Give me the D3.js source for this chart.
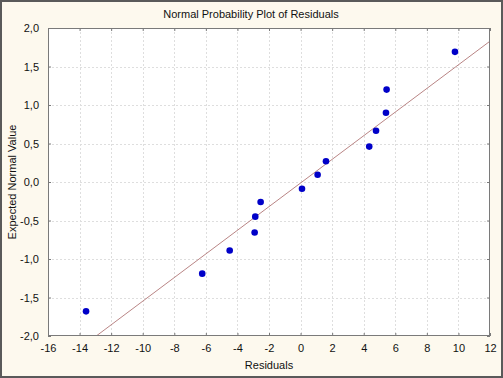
<!DOCTYPE html>
<html>
<head>
<meta charset="utf-8">
<script src="https://cdn.jsdelivr.net/npm/d3@7"></script>
<style>
  html, body { margin: 0; padding: 0; background: #fdf9ee; }
  svg { display: block; }
  text { font-family: "Liberation Sans", Arial, sans-serif; fill: #111; }
</style>
</head>
<body>
<svg id="chart" width="503" height="378"></svg>
<script>
// Data
const residuals = [-13.59, -6.23, -4.49, -2.91, -2.87, -2.53, 0.09, 1.08, 1.61, 4.35, 4.78, 5.41, 5.45, 9.78];
const expectedNormal = [-1.68, -1.19, -0.89, -0.655, -0.45, -0.26, -0.088, 0.095, 0.27, 0.46, 0.665, 0.9, 1.2, 1.69];
const xTicks = [-16, -14, -12, -10, -8, -6, -4, -2, 0, 2, 4, 6, 8, 10, 12];
const yTicks = [-2.0, -1.5, -1.0, -0.5, 0.0, 0.5, 1.0, 1.5, 2.0];
const lineSlope = 0.1535;
const lineIntercept = -0.013;
const titleText = "Normal Probability Plot of Residuals";
const xLabel = "Residuals";
const yLabel = "Expected Normal Value";

const W = 503, H = 378;
const m = { left: 48, top: 28, right: 490, bottom: 336 };

const svg = d3.select("#chart");

// background and outer border
svg.append("rect").attr("x", 0).attr("y", 0).attr("width", W).attr("height", H).attr("fill", "#fdf9ee");
svg.append("rect").attr("x", 1).attr("y", 1).attr("width", W - 2).attr("height", H - 2)
  .attr("fill", "none").attr("stroke", "#5a5a5a").attr("stroke-width", 2);

const x = d3.scaleLinear().domain([-16, 12]).range([m.left, m.right]);
const y = d3.scaleLinear().domain([-2, 2]).range([m.bottom, m.top]);

// plot area
svg.append("rect").attr("x", m.left).attr("y", m.top)
  .attr("width", m.right - m.left).attr("height", m.bottom - m.top).attr("fill", "#ffffff");

// gridlines
const grid = svg.append("g");
grid.selectAll("line.vx").data(xTicks.slice(1, -1)).join("line")
  .attr("x1", d => Math.round(x(d)) + 0.5).attr("x2", d => Math.round(x(d)) + 0.5)
  .attr("y1", m.top).attr("y2", m.bottom)
  .attr("stroke", "#dedede").attr("stroke-dasharray", "2,2");
grid.selectAll("line.hy").data(yTicks.slice(1, -1)).join("line")
  .attr("y1", d => Math.round(y(d)) + 0.5).attr("y2", d => Math.round(y(d)) + 0.5)
  .attr("x1", m.left).attr("x2", m.right)
  .attr("stroke", "#dedede").attr("stroke-dasharray", "2,2");

// clip
svg.append("clipPath").attr("id", "clip").append("rect")
  .attr("x", m.left).attr("y", m.top).attr("width", m.right - m.left).attr("height", m.bottom - m.top);

// fitted line
const lx = x.domain();
svg.append("line").attr("clip-path", "url(#clip)")
  .attr("x1", x(lx[0])).attr("y1", y(lineSlope * lx[0] + lineIntercept))
  .attr("x2", x(lx[1])).attr("y2", y(lineSlope * lx[1] + lineIntercept))
  .attr("stroke", "#b98585").attr("stroke-width", 1);

// axes (ticks inside)
const axisColor = "#7a7a7a";
function styleAxis(g) {
  g.select(".domain").remove();
  g.selectAll(".tick line").attr("stroke", axisColor);
  g.selectAll("text").style("font-size", "11px").attr("fill", "#111");
}
const fmtY = d => d3.format(".1f")(d).replace(".", ",").replace("−", "-");
const fmtX = d => String(d);

svg.append("g").attr("transform", `translate(0,${m.bottom})`)
  .call(d3.axisBottom(x).tickValues(xTicks).tickSize(-3).tickPadding(8).tickFormat(fmtX))
  .call(styleAxis);
svg.append("g").attr("transform", `translate(0,${m.top})`)
  .call(d3.axisTop(x).tickValues(xTicks).tickSize(-3).tickFormat(""))
  .call(styleAxis);
svg.append("g").attr("transform", `translate(${m.left},0)`)
  .call(d3.axisLeft(y).tickValues(yTicks).tickSize(-3).tickPadding(9).tickFormat(fmtY))
  .call(styleAxis);
svg.append("g").attr("transform", `translate(${m.right},0)`)
  .call(d3.axisRight(y).tickValues(yTicks).tickSize(-3).tickFormat(""))
  .call(styleAxis);

// frame
svg.append("rect").attr("x", m.left + 0.5).attr("y", m.top + 0.5)
  .attr("width", m.right - m.left - 1).attr("height", m.bottom - m.top - 1)
  .attr("fill", "none").attr("stroke", axisColor).attr("stroke-width", 1);

// points
svg.append("g").selectAll("circle").data(residuals).join("circle")
  .attr("cx", d => x(d)).attr("cy", (d, i) => y(expectedNormal[i]))
  .attr("r", 3.3).attr("fill", "#0000c8");

// labels
svg.append("text").attr("x", 251).attr("y", 18).attr("text-anchor", "middle")
  .style("font-size", "11px").text(titleText);
svg.append("text").attr("x", (m.left + m.right) / 2).attr("y", 369).attr("text-anchor", "middle")
  .style("font-size", "11px").text(xLabel);
svg.append("text").attr("transform", `translate(16,${(m.top + m.bottom) / 2}) rotate(-90)`)
  .attr("text-anchor", "middle").style("font-size", "11px").text(yLabel);
</script>
</body>
</html>
